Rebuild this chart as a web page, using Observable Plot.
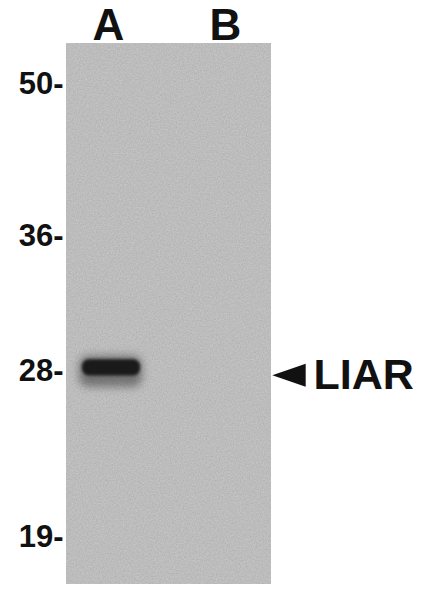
<!DOCTYPE html>
<html>
<head>
<meta charset="utf-8">
<script src="https://cdn.jsdelivr.net/npm/d3@7"></script>
<script src="https://cdn.jsdelivr.net/npm/@observablehq/plot@0.6"></script>
<style>
  html, body { margin: 0; padding: 0; background: #fff; }
  #chart { width: 426px; height: 594px; }
</style>
</head>
<body>
<div id="chart"></div>
<script>
// ---- data ----
const lanes = ["A", "B"];
const markerMW = [50, 36, 28, 19];              // kDa ladder tick labels
const markerPos = [84, 236, 371, 537];          // ladder migration (pixel rows on the membrane)
const bandIntensity = [1, 0];                   // LIAR signal per lane
const bandTopMW = [28.7, 28.7];
const bandBottomMW = [27.75, 27.75];
const smearTopMW = [28.9, 28.9];
const smearBottomMW = [27.15, 27.15];
const targetName = "LIAR";
const targetMW = 27.8;

const bands = lanes.map((lane, i) => ({
  lane,
  top: bandTopMW[i], bottom: bandBottomMW[i],
  smearTop: smearTopMW[i], smearBottom: smearBottomMW[i],
  intensity: bandIntensity[i]
}));
const target = [{mw: targetMW, name: targetName}];

const leftTriangle = {
  draw(context, size) {
    const r = Math.sqrt(size / Math.PI);
    context.moveTo(-1.45 * r, 0);
    context.lineTo(1.45 * r, -r);
    context.lineTo(1.45 * r, r);
    context.closePath();
  }
};

const chart = Plot.plot({
  width: 426,
  height: 594,
  marginTop: 43,
  marginRight: 156,
  marginBottom: 11,
  marginLeft: 66,
  style: {fontFamily: "'Liberation Sans', Arial, sans-serif", background: "#fff", color: "#111"},
  x: {type: "band", domain: lanes, range: [52.75, 286.3], paddingInner: 0.504, paddingOuter: 0.25, axis: null},
  y: {type: "linear", domain: markerMW, range: markerPos, axis: null},
  marks: [
    Plot.frame({fill: "#bcbcbc", stroke: "#cfcfcf", strokeWidth: 1.5}),
    Plot.barY(bands, {x: "lane", y1: "smearTop", y2: "smearBottom", fill: "#2a2a2a",
      fillOpacity: d => 0.5 * d.intensity, insetLeft: -3, insetRight: -2, rx: 9}),
    Plot.barY(bands, {x: "lane", y1: "top", y2: "bottom", fill: "#1a1a1a",
      fillOpacity: d => d.intensity, rx: 7}),
    Plot.axisY({ticks: markerMW, tickSize: 0, tickPadding: 3, tickFormat: d => d + "-",
      fontSize: 31, fontWeight: "bold", stroke: "none", fill: "#111"}),
    Plot.text(lanes, {x: d => d, text: d => d, frameAnchor: "top", lineAnchor: "bottom",
      dy: -4, dx: -3, fontSize: 44, fontWeight: "bold", fill: "#111"}),
    Plot.dot(target, {y: "mw", frameAnchor: "right", dx: 18.5, symbol: leftTriangle, r: 11.5,
      fill: "#111", stroke: "none"}),
    Plot.text(target, {y: "mw", text: "name", frameAnchor: "right", textAnchor: "start",
      dx: 43, fontSize: 43, fontWeight: "bold", fill: "#111"})
  ]
});

// styling: soft blur for band edges, grain on the membrane
const svg = d3.select(chart);
const defs = svg.insert("defs", ":first-child");
const mkFilter = id => defs.append("filter").attr("id", id)
  .attr("color-interpolation-filters", "sRGB")
  .attr("x", "-50%").attr("y", "-50%").attr("width", "200%").attr("height", "200%");
mkFilter("soft").append("feGaussianBlur").attr("stdDeviation", 1.6);
mkFilter("halo").append("feGaussianBlur").attr("stdDeviation", 4);
const grain = defs.append("filter").attr("id", "grain").attr("color-interpolation-filters", "sRGB")
  .attr("x", 0).attr("y", 0).attr("width", "100%").attr("height", "100%");
grain.append("feTurbulence").attr("type", "fractalNoise").attr("baseFrequency", 0.7).attr("numOctaves", 2).attr("seed", 4).attr("result", "n");
grain.append("feColorMatrix").attr("in", "n").attr("type", "saturate").attr("values", 0).attr("result", "g");
const ct = grain.append("feComponentTransfer").attr("in", "g").attr("result", "m");
["R", "G", "B"].forEach(c => ct.append("feFunc" + c).attr("type", "linear").attr("slope", 0.16).attr("intercept", 0.66));
ct.append("feFuncA").attr("type", "linear").attr("slope", 0).attr("intercept", 1);
grain.append("feComposite").attr("in", "m").attr("in2", "SourceGraphic").attr("operator", "in");

svg.selectAll("[aria-label=frame]").attr("filter", "url(#grain)");
const barGroups = svg.selectAll("g[aria-label=bar]").nodes();
if (barGroups[0]) d3.select(barGroups[0]).attr("filter", "url(#halo)");
if (barGroups[1]) d3.select(barGroups[1]).attr("filter", "url(#soft)");

document.getElementById("chart").appendChild(chart);
</script>
</body>
</html>
